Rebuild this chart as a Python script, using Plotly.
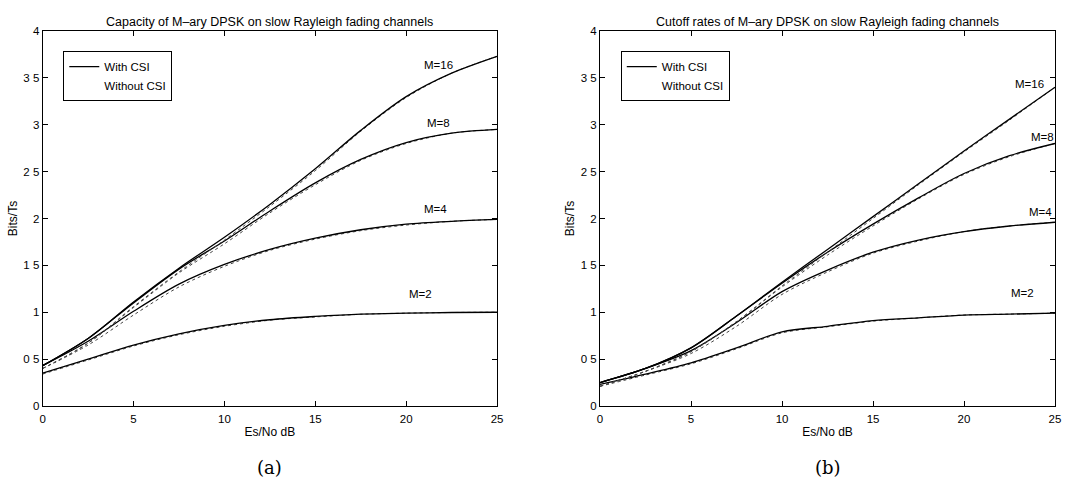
import plotly.graph_objects as go

# ---------------- data ----------------
snr = [0, 2.5, 5, 7.5, 10, 12.5, 15, 17.5, 20, 22.5, 25]

# (a) capacity, with CSI
cap_m2 = [0.35, 0.50, 0.65, 0.77, 0.86, 0.92, 0.955, 0.98, 0.99, 0.997, 1.00]
cap_m4 = [0.43, 0.69, 1.01, 1.30, 1.51, 1.67, 1.79, 1.88, 1.94, 1.97, 1.99]
cap_m8 = [0.43, 0.72, 1.10, 1.46, 1.76, 2.08, 2.38, 2.63, 2.81, 2.91, 2.95]
cap_m16 = [0.43, 0.72, 1.11, 1.47, 1.80, 2.15, 2.53, 2.94, 3.30, 3.55, 3.73]
# (a) capacity, without CSI
cap_m2_n = [0.34, 0.49, 0.64, 0.76, 0.85, 0.915, 0.95, 0.978, 0.99, 0.997, 1.00]
cap_m4_n = [0.40, 0.65, 0.97, 1.27, 1.49, 1.66, 1.78, 1.87, 1.93, 1.97, 1.99]
cap_m8_n = [0.40, 0.67, 1.05, 1.42, 1.73, 2.06, 2.36, 2.62, 2.80, 2.91, 2.95]
cap_m16_n = [0.40, 0.67, 1.06, 1.43, 1.77, 2.13, 2.51, 2.93, 3.29, 3.55, 3.73]

# (b) cutoff rate, with CSI
r0_m2 = [0.23, 0.34, 0.46, 0.62, 0.79, 0.85, 0.91, 0.94, 0.97, 0.98, 0.99]
r0_m4 = [0.25, 0.40, 0.59, 0.89, 1.22, 1.45, 1.64, 1.77, 1.86, 1.92, 1.96]
r0_m8 = [0.25, 0.40, 0.62, 0.96, 1.31, 1.64, 1.94, 2.22, 2.48, 2.67, 2.80]
r0_m16 = [0.25, 0.40, 0.62, 0.96, 1.32, 1.67, 2.02, 2.37, 2.72, 3.06, 3.40]
# (b) cutoff rate, without CSI
r0_m2_n = [0.21, 0.33, 0.45, 0.61, 0.78, 0.845, 0.905, 0.94, 0.97, 0.98, 0.99]
r0_m4_n = [0.21, 0.37, 0.56, 0.85, 1.19, 1.43, 1.63, 1.76, 1.86, 1.92, 1.96]
r0_m8_n = [0.21, 0.37, 0.58, 0.90, 1.27, 1.61, 1.92, 2.21, 2.47, 2.66, 2.80]
r0_m16_n = [0.21, 0.37, 0.58, 0.90, 1.28, 1.64, 2.00, 2.36, 2.71, 3.05, 3.40]

curve_names = ["M=2", "M=4", "M=8", "M=16"]
label_x_a = [20.8, 21.6, 21.8, 21.8]
label_y_a = [1.19, 2.10, 3.02, 3.64]
label_x_b = [23.2, 24.2, 24.3, 23.6]
label_y_b = [1.21, 2.07, 2.87, 3.44]

x_ticks = [0, 5, 10, 15, 20, 25]
x_ticktext = ["0", "5", "10", "15", "20", "25"]
y_ticks = [0, 0.5, 1, 1.5, 2, 2.5, 3, 3.5, 4]
y_ticktext = ["0", "0 5", "1", "1 5", "2", "2 5", "3", "3 5", "4"]

titles = ["Capacity of M\u2013ary DPSK on slow Rayleigh fading channels",
          "Cutoff rates of M\u2013ary DPSK on slow Rayleigh fading channels"]
captions = ["(a)", "(b)"]

# ---------------- figure ----------------
FONT = "Liberation Sans"
fig = go.Figure()

panels = [
    ("x", "y", "legend", [cap_m2, cap_m4, cap_m8, cap_m16],
     [cap_m2_n, cap_m4_n, cap_m8_n, cap_m16_n], label_x_a, label_y_a),
    ("x2", "y2", "legend2", [r0_m2, r0_m4, r0_m8, r0_m16],
     [r0_m2_n, r0_m4_n, r0_m8_n, r0_m16_n], label_x_b, label_y_b),
]

for xa, ya, lg, solid, dotted, lx, ly in panels:
    for i, (s, d) in enumerate(zip(solid, dotted)):
        fig.add_trace(go.Scatter(
            x=snr, y=d, mode="lines", xaxis=xa, yaxis=ya, legend=lg,
            line=dict(color="#444", width=1, dash="dot", shape="spline",
                      smoothing=0.9),
            name="Without CSI", showlegend=False, legendrank=2))
        fig.add_trace(go.Scatter(
            x=snr, y=s, mode="lines", xaxis=xa, yaxis=ya, legend=lg,
            line=dict(color="black", width=1.3, shape="spline",
                      smoothing=0.9),
            name="With CSI", showlegend=(i == 0), legendrank=1))
    fig.add_trace(go.Scatter(
        x=[None], y=[None], mode="lines", xaxis=xa, yaxis=ya, legend=lg,
        line=dict(color="white", width=1), name="Without CSI",
        showlegend=True, legendrank=2))
    for name, tx, ty in zip(curve_names, lx, ly):
        fig.add_annotation(x=tx, y=ty, xref=xa, yref=ya, text=name,
                           showarrow=False, xanchor="center",
                           font=dict(family=FONT, size=11.5, color="black"))

axis_common = dict(
    showline=True, linecolor="black", linewidth=1, mirror="ticks",
    ticks="inside", ticklen=5, tickcolor="black", showgrid=False,
    zeroline=False, automargin=False,
    tickfont=dict(family=FONT, size=11.5, color="black"),
)

dom_y = [0.1815, 0.9375]
fig.update_layout(
    width=1091, height=496,
    margin=dict(l=0, r=0, t=0, b=0, autoexpand=False),
    paper_bgcolor="white", plot_bgcolor="white",
    font=dict(family=FONT, size=11.5, color="black"),
    xaxis=dict(domain=[0.0391, 0.4556], range=[0, 25], tickvals=x_ticks,
               ticktext=x_ticktext, anchor="y", ticklabelstandoff=2,
               title=dict(text="Es/No dB", standoff=3,
                          font=dict(family=FONT, size=12)), **axis_common),
    yaxis=dict(domain=dom_y, range=[0, 4], tickvals=y_ticks,
               ticktext=y_ticktext, anchor="x",
               title=dict(text="Bits/Ts", standoff=3,
                          font=dict(family=FONT, size=12)), **axis_common),
    xaxis2=dict(domain=[0.55, 0.967], range=[0, 25], tickvals=x_ticks,
                ticktext=x_ticktext, anchor="y2", ticklabelstandoff=2,
                title=dict(text="Es/No dB", standoff=3,
                           font=dict(family=FONT, size=12)), **axis_common),
    yaxis2=dict(domain=dom_y, range=[0, 4], tickvals=y_ticks,
                ticktext=y_ticktext, anchor="x2",
                title=dict(text="Bits/Ts", standoff=3,
                           font=dict(family=FONT, size=12)), **axis_common),
    legend=dict(x=0.058, y=0.796, xref="paper", yref="paper",
                xanchor="left", yanchor="bottom",
                bordercolor="black", borderwidth=1, bgcolor="white",
                font=dict(family=FONT, size=11.5), itemwidth=30,
                tracegroupgap=0, traceorder="normal"),
    legend2=dict(x=0.569, y=0.796, xref="paper", yref="paper",
                 xanchor="left", yanchor="bottom",
                 bordercolor="black", borderwidth=1, bgcolor="white",
                 font=dict(family=FONT, size=11.5), itemwidth=30,
                 tracegroupgap=0, traceorder="normal"),
)

for t, cx in zip(titles, [0.2474, 0.7585]):
    fig.add_annotation(x=cx, y=0.9556, xref="paper", yref="paper", text=t,
                       showarrow=False, xanchor="center", yanchor="middle",
                       font=dict(family=FONT, size=12.5, color="black"))
for c, cx in zip(captions, [0.2474, 0.7585]):
    fig.add_annotation(x=cx, y=0.058, xref="paper", yref="paper", text=c,
                       showarrow=False, xanchor="center", yanchor="middle",
                       font=dict(family="DejaVu Serif, serif", size=18,
                                 color="black"))

fig.write_html("out.html")
